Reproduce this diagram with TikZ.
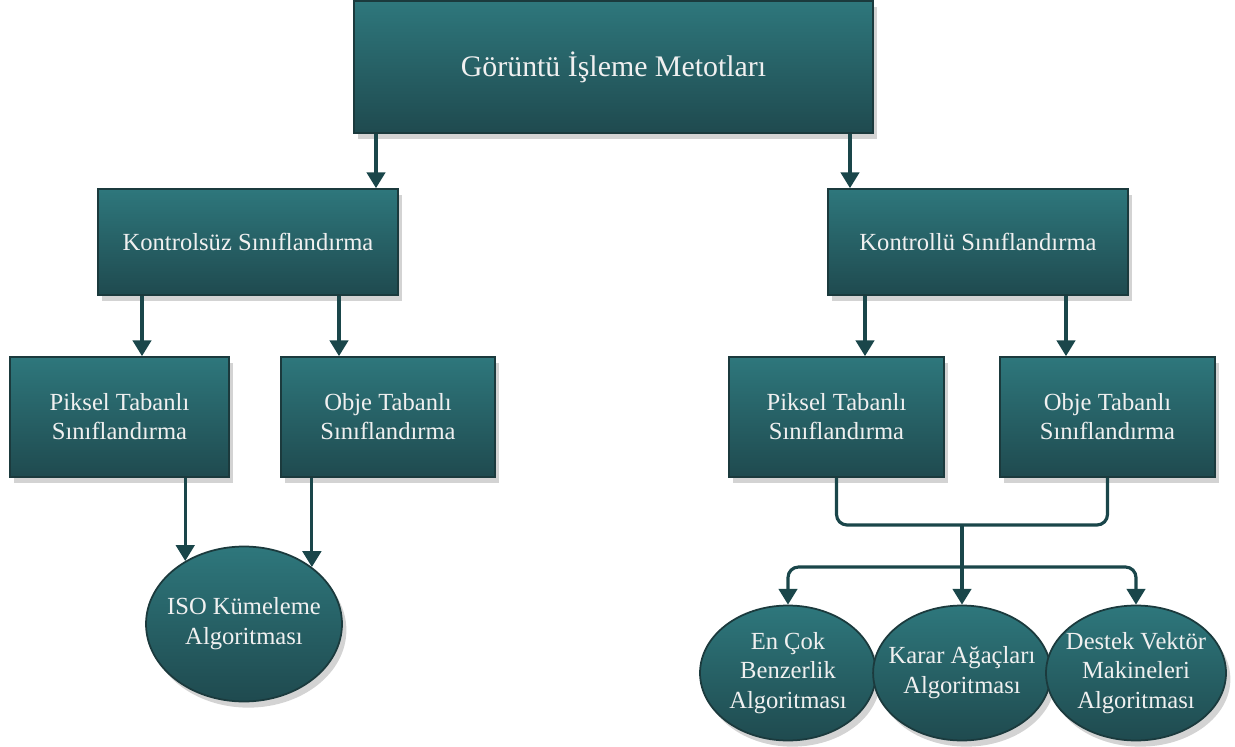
\documentclass[tikz,border=0pt]{standalone}
\usepackage{fontspec}
\setmainfont{Liberation Serif}
\usepackage{tikz}
\usetikzlibrary{shapes.geometric, arrows.meta, shadows}
\definecolor{boxtop}{HTML}{2E777C}
\definecolor{boxbottom}{HTML}{1F4A4F}
\definecolor{boxline}{HTML}{1B3A3D}
\definecolor{wirecol}{HTML}{1A464A}
\tikzstyle{block} = [rectangle, top color=boxtop, bottom color=boxbottom, draw=boxline, line width=1pt, text=white!94!black, align=center, font=\fontsize{14}{16.5}\selectfont, drop shadow={shadow xshift=2.5pt, shadow yshift=-3.5pt, opacity=0.35}]
\tikzstyle{method} = [block, ellipse, inner xsep=-6pt, inner ysep=0pt, font=\fontsize{14}{17}\selectfont]
\tikzstyle{wire} = [line width=1.8pt, draw=wirecol]
\tikzstyle{arrow} = [wire, -{Triangle[width=10.5pt,length=9pt]}]

\begin{document}
\begin{tikzpicture}[x=0.02cm, y=-0.02cm]
\useasboundingbox (0,0) rectangle (1235,747);
\node (methods) [block, minimum width=10.38cm, minimum height=2.64cm, font=\fontsize{17}{20}\selectfont] at (613.5,67) {Görüntü İşleme Metotları};
\node (unsup) [block, minimum width=6cm, minimum height=2.12cm] at (248,242) {Kontrolsüz Sınıflandırma};
\node (sup) [block, minimum width=6cm, minimum height=2.12cm] at (978,242) {Kontrollü Sınıflandırma};
\node (pixunsup) [block, minimum width=4.38cm, minimum height=2.4cm] at (119.5,417) {Piksel Tabanlı\\Sınıflandırma};
\node (objunsup) [block, minimum width=4.28cm, minimum height=2.4cm] at (388,417) {Obje Tabanlı\\Sınıflandırma};
\node (pixsup) [block, minimum width=4.3cm, minimum height=2.4cm] at (836.5,417) {Piksel Tabanlı\\Sınıflandırma};
\node (objsup) [block, minimum width=4.3cm, minimum height=2.4cm] at (1107.5,417) {Obje Tabanlı\\Sınıflandırma};
\node (iso) [method, minimum width=3.92cm, minimum height=3.1cm] at (244,624) {ISO Kümeleme\\Algoritması};
\node (encok) [method, minimum width=3.52cm, minimum height=2.7cm] at (788,673) {En Çok\\Benzerlik\\Algoritması};
\node (karar) [method, minimum width=3.52cm, minimum height=2.7cm] at (962,673) {Karar Ağaçları\\Algoritması};
\node (destek) [method, minimum width=3.6cm, minimum height=2.7cm] at (1136,673) {Destek Vektör\\Makineleri\\Algoritması};
\coordinate (join) at (962,525);
\coordinate (fork) at (962,567);
\draw [arrow] (methods.south -| 376,0) -- (unsup.north -| 376,0);
\draw [arrow] (methods.south -| 850,0) -- (sup.north -| 850,0);
\draw [arrow] (unsup.south -| 142,0) -- (pixunsup.north -| 142,0);
\draw [arrow] (unsup.south -| 339,0) -- (objunsup.north -| 339,0);
\draw [arrow] (sup.south -| 865,0) -- (pixsup.north -| 865,0);
\draw [arrow] (sup.south -| 1066,0) -- (objsup.north -| 1066,0);
\draw [arrow] (iso.133 |- pixunsup.south) -- (iso.133);
\draw [arrow] (iso.40 |- objunsup.south) -- (iso.40);
\draw [wire, rounded corners=6pt] (pixsup.south) |- (join) -| (objsup.south);
\draw [wire] (join) -- (fork);
\draw [arrow, rounded corners=6pt] (fork) -| (encok.north);
\draw [arrow] (fork) -- (karar.north);
\draw [arrow, rounded corners=6pt] (fork) -| (destek.north);
\end{tikzpicture}
\end{document}
